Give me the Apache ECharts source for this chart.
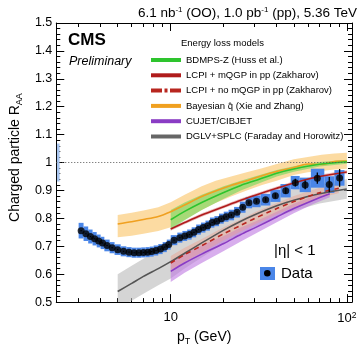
<!DOCTYPE html>
<html>
<head>
<meta charset="utf-8">
<script src="https://cdn.jsdelivr.net/npm/echarts@6/dist/echarts.min.js"></script>
<style>
html,body{margin:0;padding:0;background:#fff;}
#chart{width:360px;height:351px;}
</style>
</head>
<body>
<div id="chart"></div>
<script>
// CMS OO data
var ptData = [3.1,3.3,3.5,3.7,3.9,4.1,4.35,4.65,5.0,5.4,5.8,6.2,6.6,7.0,7.4,7.8,8.25,8.75,9.25,9.75,
    10.45,11.27,12.02,12.77,13.55,14.4,15.3,16.22,17.2,18.25,19.4,20.65,22.1,23.8,25.65,27.8,30.7,34.6,39.3,45.0,
    51.0,58.0,68.0,79.5,91.0];
var ptEdges = [3.0,3.2,3.4,3.6,3.8,4.0,4.2,4.5,4.8,5.2,5.6,6.0,6.4,6.8,7.2,7.6,8.0,8.5,9.0,9.5,10.0,
    10.9,11.65,12.4,13.15,13.95,14.85,15.75,16.7,17.7,18.8,20.0,21.3,22.9,24.7,26.6,29.0,32.4,36.8,42.0,48.0,
    54.0,62.5,74.5,85.0,97.0];
var raa = [0.756,0.745,0.735,0.727,0.719,0.712,0.703,0.695,0.688,0.682,0.679,0.677,0.677,0.678,0.679,0.681,0.685,0.690,0.697,0.706,
    0.722,0.731,0.737,0.742,0.750,0.760,0.767,0.774,0.785,0.790,0.799,0.806,0.812,0.822,0.840,0.856,0.861,0.867,0.881,0.899,
    0.928,0.920,0.944,0.921,0.945];
var statErr = [0.002,0.002,0.002,0.002,0.002,0.002,0.002,0.002,0.002,0.002,0.002,0.002,0.002,0.002,0.002,0.002,0.002,0.002,0.002,0.002,
    0.002,0.002,0.002,0.002,0.002,0.002,0.002,0.002,0.002,0.002,0.003,0.003,0.004,0.004,0.005,0.005,0.006,0.007,0.009,0.011,
    0.014,0.016,0.020,0.027,0.032];
var sysErr = [0.028,0.026,0.025,0.024,0.023,0.022,0.021,0.020,0.019,0.018,0.018,0.018,0.018,0.018,0.018,0.018,0.018,0.018,0.018,0.018,
    0.018,0.018,0.018,0.018,0.018,0.018,0.018,0.018,0.018,0.018,0.018,0.018,0.019,0.019,0.020,0.020,0.021,0.021,0.022,0.024,
    0.024,0.026,0.034,0.030,0.028];
var globalUnc = 0.068;

// models
var modelNames = ['BDMPS-Z (Huss et al.)','LCPI + mQGP in pp (Zakharov)','LCPI + no mQGP in pp (Zakharov)',
    'Bayesian q\u0302 (Xie and Zhang)','CUJET/CIBJET','DGLV+SPLC (Faraday and Horowitz)'];

var greenPt = [10,12,15,20,25,30,40,50,70,100];
var greenMid = [0.795,0.825,0.857,0.893,0.918,0.935,0.962,0.977,0.994,1.003];
var greenLow = [0.760,0.793,0.830,0.870,0.900,0.920,0.950,0.967,0.986,0.996];
var greenHigh = [0.830,0.857,0.885,0.915,0.935,0.950,0.973,0.987,1.002,1.010];

var redPt = [10,12,15,20,25,30,40,50,70,100];
var redMid = [0.762,0.785,0.812,0.842,0.865,0.882,0.908,0.927,0.950,0.966];
var redLow = [0.756,0.779,0.806,0.836,0.859,0.876,0.902,0.921,0.944,0.960];
var redHigh = [0.768,0.791,0.818,0.848,0.871,0.888,0.914,0.933,0.956,0.972];

var dashPt = [10,12,15,20,25,30,40,50,70,90];
var dashMid = [0.640,0.670,0.702,0.745,0.775,0.800,0.835,0.860,0.892,0.908];
var dashLow = [0.615,0.645,0.678,0.722,0.753,0.778,0.815,0.840,0.874,0.890];
var dashHigh = [0.665,0.695,0.726,0.768,0.797,0.822,0.855,0.880,0.910,0.926];

var orangePt = [5,6,7,8.5,10,12,15,18,22,27,33,40,50,60,72,85,100];
var orangeMid = [0.780,0.788,0.796,0.807,0.824,0.848,0.878,0.898,0.918,0.935,0.953,0.968,0.982,0.995,0.993,1.004,1.005];
var orangeLow = [0.732,0.738,0.745,0.755,0.768,0.795,0.830,0.855,0.878,0.900,0.920,0.935,0.955,0.965,0.970,0.975,0.978];
var orangeHigh = [0.812,0.820,0.828,0.840,0.858,0.885,0.915,0.935,0.950,0.965,0.980,0.995,1.012,1.020,1.028,1.032,1.035];

var purplePt = [10,12,15,20,25,30,40,50,65,80];
var purpleMid = [0.610,0.640,0.672,0.710,0.742,0.766,0.805,0.835,0.866,0.888];
var purpleLow = [0.572,0.605,0.640,0.683,0.717,0.744,0.786,0.818,0.852,0.876];
var purpleHigh = [0.648,0.675,0.704,0.737,0.767,0.788,0.824,0.852,0.880,0.900];

var grayPt = [5,6,7,8.5,10,12,15,20,25,30,40,50,70,100];
var grayMid = [0.538,0.567,0.592,0.620,0.645,0.675,0.712,0.758,0.790,0.813,0.845,0.865,0.888,0.905];
var grayLow = [0.480,0.505,0.530,0.560,0.585,0.620,0.660,0.710,0.745,0.770,0.805,0.827,0.853,0.870];
var grayHigh = [0.600,0.630,0.655,0.688,0.715,0.743,0.775,0.815,0.840,0.858,0.887,0.905,0.925,0.940];

var xMajorTicks = [10,100];
var xMinorTicks = [3,4,5,6,7,8,9,20,30,40,50,60,70,80,90];

var fontFam = 'Liberation Sans, Arial, Helvetica, sans-serif';
var blue = '#4a86e8';

function band(pts, lo, hi, fill) {
    return {
        type: 'custom', silent: true, z: 2,
        data: [[pts[0], lo[0]]],
        renderItem: function (params, api) {
            var up = pts.map(function (p, i) { return api.coord([p, hi[i]]); });
            var dn = pts.map(function (p, i) { return api.coord([p, lo[i]]); }).reverse();
            var cs = params.coordSys;
            return {
                type: 'polygon',
                shape: {points: up.concat(dn)},
                style: {fill: fill},
                clipPath: {type: 'rect', shape: {x: cs.x, y: cs.y, width: cs.width, height: cs.height}}
            };
        }
    };
}

function curve(name, pts, mid, color, dash) {
    return {
        type: 'line', name: name, silent: true, z: 4,
        data: pts.map(function (p, i) { return [p, mid[i]]; }),
        symbol: 'none', smooth: 0.25, color: color,
        lineStyle: {color: color, width: 1.6, type: dash || 'solid'}
    };
}

function xAxisOf(pos, major) {
    return {
        type: 'log', logBase: 10, min: 2.24, max: 107, position: pos,
        axisLine: {show: major, lineStyle: {color: '#000', width: 1}},
        axisTick: {inside: true, length: major ? 8 : 4, customValues: major ? xMajorTicks : xMinorTicks,
            lineStyle: {color: '#000'}},
        axisLabel: {show: major && pos === 'bottom', customValues: xMajorTicks, margin: 9,
            formatter: function (v) { return v > 50 ? '{b|10}{s|2}' : '{b|10}'; },
            rich: {b: {fontSize: 13, fontFamily: fontFam, color: '#000'},
                   s: {fontSize: 8.5, fontFamily: fontFam, color: '#000', verticalAlign: 'top', padding: [0, 0, 6, 0]}}},
        splitLine: {show: false},
        name: major && pos === 'bottom' ? '{p|p}{t|T}{p| (GeV)}' : '',
        nameLocation: 'middle', nameGap: 22,
        nameTextStyle: {rich: {p: {fontSize: 14, fontFamily: fontFam, color: '#000'},
                               t: {fontSize: 9, fontFamily: fontFam, color: '#000', padding: [9, 0, 0, 0]}}}
    };
}

function yAxisOf(pos) {
    var left = pos === 'left';
    return {
        type: 'value', min: 0.5, max: 1.5, interval: 0.1, position: pos,
        axisLine: {show: true, lineStyle: {color: '#000', width: 1}},
        axisTick: {inside: true, length: 8, lineStyle: {color: '#000'}},
        minorTick: {show: true, splitNumber: 5, length: 4, lineStyle: {color: '#000'}},
        axisLabel: {show: left, margin: 4, color: '#000', fontSize: 12.5, fontFamily: fontFam},
        splitLine: {show: false},
        name: left ? '{a|Charged particle R}{s|AA}' : '',
        nameLocation: 'middle', nameGap: 27,
        nameTextStyle: {padding: [0, 0, 0, 10], rich: {a: {fontSize: 14, fontFamily: fontFam, color: '#000'},
                               s: {fontSize: 9, fontFamily: fontFam, color: '#000', padding: [9, 0, 0, 0]}}}
    };
}

var chart = echarts.init(document.getElementById('chart'), null, {renderer: 'canvas'});

var series = [
    band(grayPt, grayLow, grayHigh, 'rgba(185,185,185,0.6)'),
    band(purplePt, purpleLow, purpleHigh, 'rgba(190,120,225,0.6)'),
    band(dashPt, dashLow, dashHigh, 'rgba(235,160,140,0.45)'),
    band(redPt, redLow, redHigh, 'rgba(200,60,60,0.35)'),
    band(orangePt, orangeLow, orangeHigh, 'rgba(250,195,100,0.6)'),
    band(greenPt, greenLow, greenHigh, 'rgba(110,215,90,0.6)'),
    {
        // systematic boxes
        type: 'custom', silent: true, z: 3,
        encode: {x: [0, 2, 3], y: 1},
        data: ptData.map(function (p, i) { return [p, raa[i], ptEdges[i], ptEdges[i + 1], sysErr[i]]; }),
        renderItem: function (params, api) {
            var a = api.coord([api.value(2), api.value(1) + api.value(4)]);
            var b = api.coord([api.value(3), api.value(1) - api.value(4)]);
            return {type: 'rect', shape: {x: a[0], y: a[1], width: b[0] - a[0], height: b[1] - a[1]}, style: {fill: blue}};
        }
    },
    {
        // global uncertainty
        type: 'custom', silent: true, z: 3,
        data: [[2.26, 2.34, 1, globalUnc]],
        renderItem: function (params, api) {
            var a = api.coord([api.value(0), api.value(2) + api.value(3)]);
            var b = api.coord([api.value(1), api.value(2) - api.value(3)]);
            return {type: 'rect', shape: {x: a[0], y: a[1], width: b[0] - a[0], height: b[1] - a[1]}, style: {fill: '#a9c6f0'}};
        }
    },
    curve(modelNames[5], grayPt, grayMid, '#555555'),
    curve(modelNames[4], purplePt, purpleMid, '#8a3cc4'),
    curve(modelNames[2], dashPt, dashMid, '#b8261f', [5, 4]),
    curve(modelNames[1], redPt, redMid, '#b01c1c'),
    curve(modelNames[3], orangePt, orangeMid, '#f0a020'),
    curve(modelNames[0], greenPt, greenMid, '#2ec42e'),
    {
        // stat errors
        type: 'custom', silent: true, z: 5,
        data: ptData.map(function (p, i) { return [p, raa[i], statErr[i]]; }),
        renderItem: function (params, api) {
            var a = api.coord([api.value(0), api.value(1) + api.value(2)]);
            var b = api.coord([api.value(0), api.value(1) - api.value(2)]);
            return {type: 'line', shape: {x1: a[0], y1: a[1], x2: b[0], y2: b[1]}, style: {stroke: '#000', lineWidth: 1.3}};
        }
    },
    {
        type: 'scatter', name: 'Data', silent: true, z: 6,
        data: ptData.map(function (p, i) { return [p, raa[i]]; }),
        symbol: 'circle', symbolSize: 7,
        itemStyle: {color: '#000'},
        markLine: {
            silent: true, symbol: 'none', label: {show: false},
            lineStyle: {color: '#555', width: 1, type: [1, 2]},
            data: [{yAxis: 1}]
        }
    }
];

var legendColors = ['#2ec42e', '#b01c1c', '#b8261f', '#f0a020', '#8a3cc4', '#666666'];

var option = {
    animation: false,
    grid: {left: 55, right: 8, top: 23, bottom: 48},
    xAxis: [xAxisOf('bottom', true), xAxisOf('bottom', false), xAxisOf('top', true), xAxisOf('top', false)],
    yAxis: [yAxisOf('left'), yAxisOf('right')],
    legend: {
        orient: 'vertical', left: 146, top: 49, itemWidth: 30, itemHeight: 4, itemGap: 3.3,
        selectedMode: false,
        textStyle: {fontSize: 9.5, lineHeight: 12, color: '#000', fontFamily: fontFam},
        data: modelNames.map(function (n, i) {
            return {
                name: n,
                icon: i === 2 ? 'path://M0,0H11V4H0Z M13.5,0H16.5V4H13.5Z M19,0H30V4H19Z' : 'rect',
                itemStyle: {color: legendColors[i]}
            };
        })
    },
    graphic: [
        {type: 'text', right: 3, top: 6, style: {
            text: '{n|6.1 nb}{u|-1}{n| (OO), 1.0 pb}{u|-1}{n| (pp), 5.36 TeV}',
            rich: {n: {fontSize: 13.5, fontFamily: fontFam, fill: '#000'},
                   u: {fontSize: 8, fontFamily: fontFam, fill: '#000', verticalAlign: 'top'}}}},
        {type: 'text', left: 68, top: 32, style: {text: 'CMS', fontSize: 17, fontWeight: 'bold', fontFamily: fontFam, fill: '#000'}},
        {type: 'text', left: 69, top: 55, style: {text: 'Preliminary', fontSize: 12.5, fontStyle: 'italic', fontFamily: fontFam, fill: '#000'}},
        {type: 'text', left: 181, top: 38, style: {text: 'Energy loss models', fontSize: 9.5, fontFamily: fontFam, fill: '#000'}},
        {type: 'text', left: 274, top: 243, style: {text: '|\u03b7| < 1', fontSize: 15, fontFamily: fontFam, fill: '#000'}},
        {type: 'rect', left: 260, top: 267, shape: {width: 15, height: 13}, style: {fill: blue}},
        {type: 'circle', left: 264, top: 270, shape: {r: 3.3}, style: {fill: '#000'}},
        {type: 'text', left: 281, top: 266, style: {text: 'Data', fontSize: 15, fontFamily: fontFam, fill: '#000'}}
    ],
    series: series
};
chart.setOption(option);
</script>
</body>
</html>
